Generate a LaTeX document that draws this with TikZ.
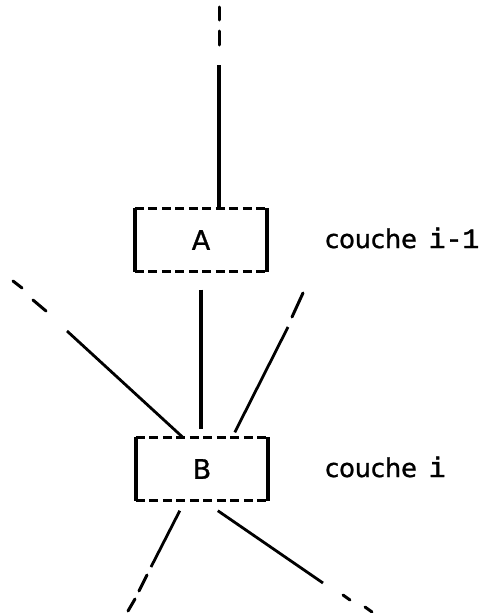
\documentclass[tikz,border=0pt]{standalone}
\usepackage{fontspec}
\setmainfont{DejaVu Sans}
\newfontfamily\lblf{DejaVu Sans}[FakeBold=1]
\newfontfamily\monof{Liberation Mono}[FakeBold=1.5]
\usetikzlibrary{calc}
\begin{document}
\begin{tikzpicture}[x=1pt,y=-1pt,
  boxside/.style={line width=3.8pt},
  boxedge/.style={line width=3pt, dash pattern=on 9pt off 4.5pt},
  link/.style={line width=3.8pt},
  diag/.style={line width=2.8pt},
  tipdash/.style={line width=3pt, line cap=round},
  layer/.style={draw=none, inner sep=0pt, minimum width=132pt, minimum height=63pt, font=\lblf\fontsize{27}{30}\selectfont},
  txt/.style={inner sep=0pt, anchor=base west, font=\lblf\fontsize{25.5}{30}\selectfont}]
\useasboundingbox (0,0) rectangle (484,613);
% boxes
\node[layer] (A) at (201,240) {A};
\node[layer] (B) at (202,469) {B};
\foreach \n in {A,B}{
  \draw[boxside] (\n.north west) -- (\n.south west);
  \draw[boxside] (\n.north east) -- (\n.south east);
  \draw[boxedge] (\n.north west) -- (\n.north east);
  \draw[boxedge] (\n.south west) -- (\n.south east);
}
% labels
\node[txt] (LA) at (325,248) {couche\hspace{12pt}{\monof\fontsize{28}{30}\selectfont i-1}};
\node[txt] (LB) at (325,477) {couche\hspace{12pt}{\monof\fontsize{28}{30}\selectfont i}};
% top connector
\coordinate (t1) at (219,7);  \coordinate (t2) at (219,20);
\coordinate (t3) at (219,31); \coordinate (t4) at (219,45);
\coordinate (t5) at (219,65);
\draw[tipdash] (t1) -- (t2);
\draw[tipdash] (t3) -- (t4);
\draw[link] (t5) -- (t5 |- A.north);
% A to B
\draw[link] ($(A.south)+(0,18)$) -- ($(B.north)+(-1,-8)$);
% upper left diagonal
\coordinate (ul1) at (13,281); \coordinate (ul2) at (22,288);
\coordinate (ul3) at (33,300); \coordinate (ul4) at (46,311);
\coordinate (ul5) at (67,331);
\draw[tipdash] (ul1) -- (ul2);
\draw[tipdash] (ul3) -- (ul4);
\draw[diag] (ul5) -- ($(B.north west)+(47,0)$);
% upper right diagonal
\coordinate (ur1) at (303,293); \coordinate (ur2) at (292,317);
\coordinate (ur3) at (288,327);
\draw[tipdash] (ur1) -- (ur2);
\draw[diag] (ur3) -- ($(B.north west)+(99,-5)$);
% lower left diagonal
\coordinate (ll1) at (151,567);
\coordinate (ll2) at (147,575); \coordinate (ll3) at (139,591);
\coordinate (ll4) at (135,599); \coordinate (ll5) at (128,611);
\draw[diag] ($(B.south west)+(44,10)$) -- (ll1);
\draw[tipdash] (ll2) -- (ll3);
\draw[tipdash] (ll4) -- (ll5);
% lower right diagonal
\coordinate (lr1) at (323,583);
\coordinate (lr2) at (343,595); \coordinate (lr3) at (350,600);
\coordinate (lr4) at (365,607); \coordinate (lr5) at (372,612);
\draw[diag] ($(B.south west)+(82,10)$) -- (lr1);
\draw[tipdash] (lr2) -- (lr3);
\draw[tipdash] (lr4) -- (lr5);
\end{tikzpicture}
\end{document}
